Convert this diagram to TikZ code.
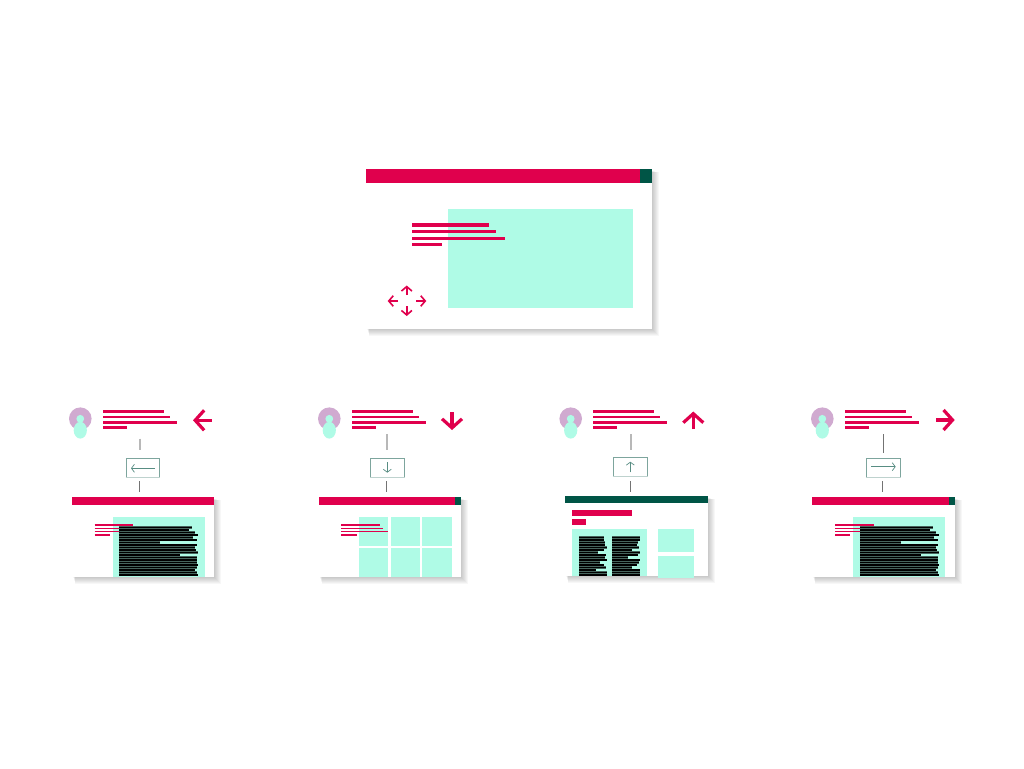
\documentclass[tikz,border=0pt]{standalone}
\usetikzlibrary{arrows.meta}

\definecolor{tabred}{RGB}{224,0,77}
\definecolor{tabgreen}{RGB}{0,85,70}
\definecolor{tabmint}{RGB}{175,251,230}
\definecolor{tabplum}{RGB}{208,170,208}
\definecolor{tabrim}{RGB}{125,165,157}

\tikzset{
	redline/.style={draw=tabred, line width=2.6pt},
	inkline/.style={draw=black, line width=1.3pt, preaction={draw=black!60!tabmint, line width=2.5pt}},
	tick/.style={draw=black!55, line width=0.7pt},
	softtick/.style={draw=black!28, line width=1.2pt},
	dirbox/.style={draw=tabrim, line width=0.8pt, fill=white, inner sep=0pt},
	dirbase/.style={draw=tabrim!50, line width=1.3pt},
	dirarrow/.style={draw=tabrim!70!tabgreen, line width=0.7pt, -{Straight Barb[length=3pt,width=8pt]}},
	bigarrow/.style={draw=tabred, line width=3.2pt, -{Straight Barb[length=9pt,width=20pt]}},
	navarrow/.style={draw=tabred, line width=1.6pt, -{Straight Barb[length=4.5pt,width=10.5pt]}},
	avatar/.style={circle, fill=tabplum, inner sep=0pt, minimum size=22.6pt}
}

% window with soft shadow: x1,y1,x2,y2
\newcommand{\winframe}[4]{
	\foreach \s in {7,6,...,0}
		\fill[black, opacity=0.032] ({#1+1+0.3*\s},{#2+1+0.3*\s}) rectangle ({#3+\s},{#4+\s});
	\fill[white] (#1,#2) rectangle (#3,#4);
}
% stack of greeked lines: style, x, y, spacing, line ends
\newcommand{\greeked}[5]{
	\foreach \xend [count=\i from 0] in {#5}
		\draw[#1] (#2,{#3+\i*#4}) -- (\xend,{#3+\i*#4});
}
% person icon with its name: x
\newcommand{\person}[2]{
	\node[avatar] (#1) at (#2,418.7) {};
	\fill[tabmint] (#2,418.8) circle (3.9pt);
	\fill[tabmint] (#2,430.2) ellipse (6.6pt and 8.4pt);
}

\begin{document}
\begin{tikzpicture}[x=1pt, y=-1pt]
\useasboundingbox (0,0) rectangle (1024,768);
\fill[white] (0,0) rectangle (1024,768);

% main window
\winframe{366}{169.3}{652}{329}
\fill[tabred] (366,169.3) rectangle (640,182.7);
\fill[tabgreen] (640,169.3) rectangle (652,182.7);
\fill[tabmint] (448,209) rectangle (632.7,307.7);
\greeked{redline, line width=3.2pt}{412.3}{225}{6.55}{489.3,496,504.7,441.7}

% four way arrows
\draw[navarrow] (406.7,295) -- (406.7,285.5);
\draw[navarrow] (406.7,306) -- (406.7,316);
\draw[navarrow] (398,301) -- (387.7,301);
\draw[navarrow] (416,301) -- (426.3,301);

% left
\person{usera}{80.3}
\greeked{redline}{103}{411.7}{5.25}{164,170,176.7,126.7}
\draw[bigarrow] (211.7,420.3) -- (193,420.3);
\coordinate (topa) at (140,438.7);
\coordinate (boxatop) at (140,450);
\coordinate (lowa) at (139.3,481);
\coordinate (wina) at (139.3,492);
\node[dirbox, minimum width=33.7pt, minimum height=18.7pt] (boxa) at (142.9,467.7) {};
\draw[dirbase] (boxa.south west) -- (boxa.south east);
\draw[softtick] (topa) -- (boxatop);
\draw[tick] (lowa) -- (wina);
\draw[dirarrow] (155,468.3) -- (131,468.3);
\winframe{72}{497.3}{214.3}{576.7}
\fill[tabred] (72,497.3) rectangle (214.3,504.7);
\fill[tabmint] (113,517) rectangle (205,576.7);
\greeked{redline, line width=1.4pt}{94.7}{525}{3.33}{133,136.7,141.7,109.7}
\greeked{inkline}{119}{527.5}{2.5}{191.7,189.3,195,198.3,193,196.7,160,196.7,195,196,198,180,197.3,196.7,197.3,198,197.3,195,196.7,198}

% down
\person{userb}{329.3}
\greeked{redline}{352}{411.7}{5.25}{413.3,419,425.7,376}
\draw[bigarrow] (452,412.3) -- (452,430);
\coordinate (topb) at (387,434);
\coordinate (boxbtop) at (387,450);
\coordinate (lowb) at (386.3,481);
\coordinate (winb) at (386.3,492);
\node[dirbox, minimum width=34.4pt, minimum height=18.7pt] (boxb) at (387.5,467.7) {};
\draw[dirbase] (boxb.south west) -- (boxb.south east);
\draw[softtick] (topb) -- (boxbtop);
\draw[tick] (lowb) -- (winb);
\draw[dirarrow] (387.3,462.3) -- (387.3,472.7);
\winframe{318.7}{497.3}{461}{576.7}
\fill[tabred] (318.7,497.3) rectangle (455,504.7);
\fill[tabgreen] (455,497.3) rectangle (461,504.7);
\foreach \cx/\cw in {359.3/388.3,391/420,422.3/451.7} {
	\fill[tabmint] (\cx,517) rectangle (\cw,546);
	\fill[tabmint] (\cx,547.7) rectangle (\cw,576.7);
}
\greeked{redline, line width=1.4pt}{341.3}{525}{3.33}{380,383.3,387.7,356.7}

% up
\person{userc}{570.7}
\greeked{redline}{593.3}{411.7}{5.25}{654.3,660,667,617}
\draw[bigarrow] (693.3,429) -- (693.3,411.5);
\coordinate (topc) at (631,434);
\coordinate (boxctop) at (631,450);
\coordinate (lowc) at (630.3,481);
\coordinate (winc) at (630.3,492);
\node[dirbox, minimum width=34.4pt, minimum height=18.7pt] (boxc) at (630.5,466.7) {};
\draw[dirbase] (boxc.south west) -- (boxc.south east);
\draw[softtick] (topc) -- (boxctop);
\draw[tick] (lowc) -- (winc);
\draw[dirarrow] (630.3,472.3) -- (630.3,461.7);
\winframe{565}{496.3}{708.3}{576}
\fill[tabgreen] (565,496.3) rectangle (708.3,503.2);
\fill[tabred] (572.3,510) rectangle (631.7,516.3);
\fill[tabred] (572.3,519.3) rectangle (585.7,525.3);
\fill[tabmint] (572.3,529) rectangle (647,576);
\fill[tabmint] (658.3,529) rectangle (694,552.3);
\fill[tabmint] (658.3,555.7) rectangle (694,578);
\greeked{inkline}{579}{537.5}{2.5}{604,604,605,605,607,604,598,606,605,607,600,604,606,596,607,607}
\greeked{inkline}{612.3}{537.5}{2.5}{640,640,638,637,639,632,640,638,628,640,639,637,632,640,640,640}

% right
\person{userd}{822.3}
\greeked{redline}{845}{411.7}{5.25}{906.3,912,918.7,869}
\draw[bigarrow] (936.3,420) -- (954.7,420);
\coordinate (topd) at (883.3,434);
\coordinate (boxdtop) at (883.3,453);
\coordinate (lowd) at (882.3,481);
\coordinate (wind) at (882.3,492);
\node[dirbox, minimum width=34pt, minimum height=18.7pt] (boxd) at (883.3,467.7) {};
\draw[dirbase] (boxd.south west) -- (boxd.south east);
\draw[tick] (topd) -- (boxdtop);
\draw[tick] (lowd) -- (wind);
\draw[dirarrow] (871,466.7) -- (895.7,466.7);
\winframe{812}{497.3}{955}{576.7}
\fill[tabred] (812,497.3) rectangle (948.7,504.7);
\fill[tabgreen] (948.7,497.3) rectangle (955,504.7);
\fill[tabmint] (853.3,517) rectangle (945.3,576.7);
\greeked{redline, line width=1.4pt}{835}{525}{3.33}{873.7,877.3,882.3,850.3}
\greeked{inkline}{860}{527.5}{2.5}{932.7,930.3,936,939.3,934,937.7,901,937.7,936,937,939,921,938.3,937.7,938.3,939,938.3,936,937.7,939}

\end{tikzpicture}
\end{document}
